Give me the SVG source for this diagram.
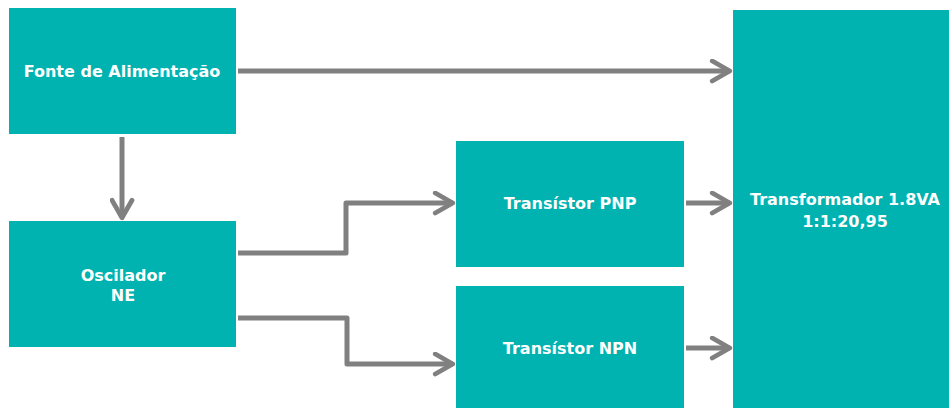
<svg xmlns="http://www.w3.org/2000/svg" width="949" height="408" viewBox="0 0 949 408">
  <style>
    .box { fill: #00B2B0; }
    .lbl { fill: #ffffff; font-family: "DejaVu Sans", Verdana, sans-serif; font-weight: bold; font-size: 16px; text-anchor: middle; }
    .wire { fill: none; stroke: #808080; stroke-width: 5; stroke-linejoin: round; }
  </style>
  <defs>
    <marker id="chev" viewBox="0 0 10 10" refX="8.6" refY="5" markerWidth="5" markerHeight="5" markerUnits="strokeWidth" orient="auto">
      <path d="M1.5 1 L8.5 5 L1.5 9" fill="none" stroke="#808080" stroke-width="1.9" stroke-linecap="round" stroke-linejoin="round"/>
    </marker>
  </defs>

  <g id="fonte">
    <rect class="box" x="9" y="8" width="227" height="126"/>
    <text class="lbl" x="122" y="77">Fonte de Alimentação</text>
  </g>
  <g id="oscilador">
    <rect class="box" x="9" y="221" width="227" height="126"/>
    <text class="lbl" x="123" y="281">Oscilador</text>
    <text class="lbl" x="123" y="301">NE</text>
  </g>
  <g id="pnp">
    <rect class="box" x="456" y="141" width="228" height="126"/>
    <text class="lbl" x="570" y="209">Transístor PNP</text>
  </g>
  <g id="npn">
    <rect class="box" x="456" y="286" width="228" height="122"/>
    <text class="lbl" x="570" y="354">Transístor NPN</text>
  </g>
  <g id="transformador">
    <rect class="box" x="733" y="10" width="216" height="398"/>
    <text class="lbl" x="845" y="205">Transformador 1.8VA</text>
    <text class="lbl" x="845" y="227">1:1:20,95</text>
  </g>

  <g id="connectors">
    <path class="wire" d="M238 71 H730" marker-end="url(#chev)"/>
    <path class="wire" d="M122 137 V218" marker-end="url(#chev)"/>
    <path class="wire" d="M238 253 H346 V203 H453" marker-end="url(#chev)"/>
    <path class="wire" d="M238 318 H347 V364 H453" marker-end="url(#chev)"/>
    <path class="wire" d="M686 203 H730" marker-end="url(#chev)"/>
    <path class="wire" d="M686 348 H730" marker-end="url(#chev)"/>
  </g>
</svg>
